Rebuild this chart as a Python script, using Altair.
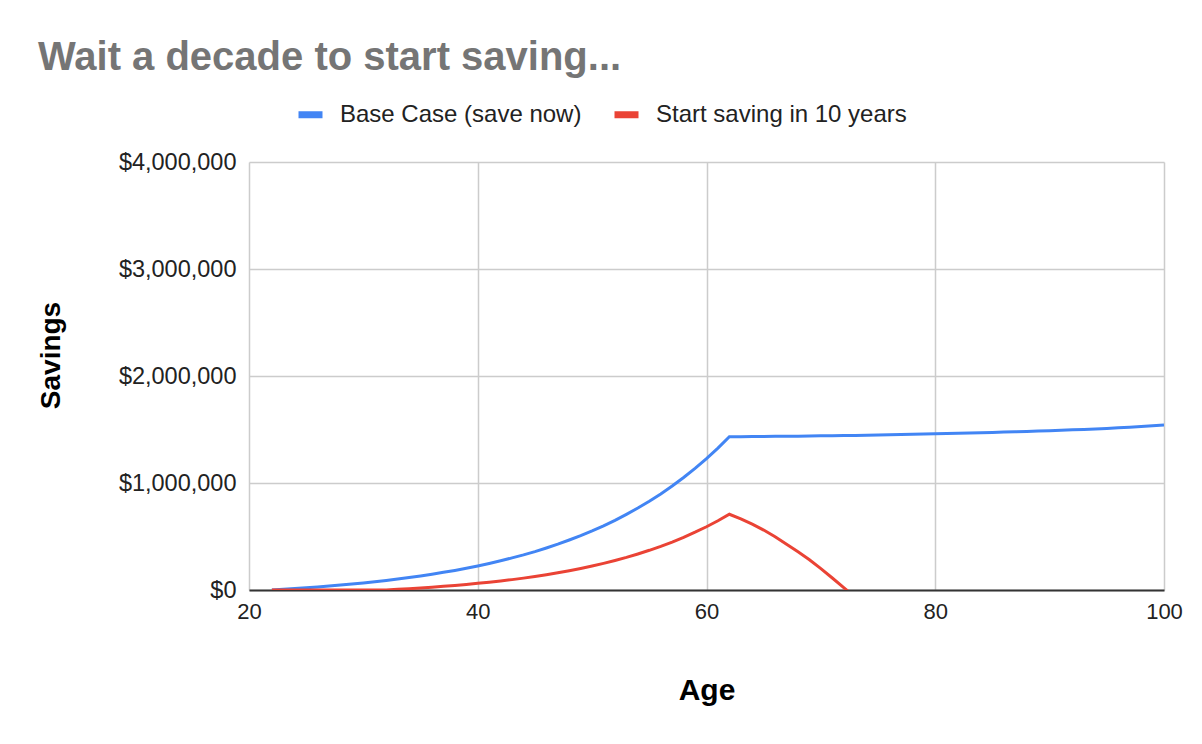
import altair as alt
import pandas as pd


# savings in thousands of dollars
ages = list(range(22, 101))
base_case = [
    0, 6, 13, 20, 28, 37, 46, 55, 66, 77,
    89, 102, 116, 131, 147, 165, 183, 203, 225, 248,
    273, 300, 328, 359, 393, 428, 467, 508, 552, 600,
    651, 707, 766, 830, 898, 972, 1051, 1136, 1228, 1326,
    1432, 1433, 1434, 1435, 1436, 1437, 1438, 1439, 1441, 1442,
    1444, 1445, 1447, 1449, 1451, 1453, 1455, 1457, 1460, 1462,
    1465, 1467, 1470, 1473, 1476, 1479, 1482, 1486, 1489, 1493,
    1497, 1501, 1505, 1510, 1516, 1522, 1528, 1535, 1542,
]

late_ages = list(range(22, 74))
late_start = [
    0, 0, 0, 0, 0, 0, 0, 0, 0, 0,
    0, 6, 12, 19, 26, 34, 42, 52, 62, 73,
    85, 97, 111, 127, 143, 161, 180, 201, 224, 249,
    276, 305, 337, 371, 408, 448, 492, 540, 591, 647,
    708, 665, 615, 560, 497, 428, 357, 283, 200, 112,
    22, -68,
]

series = ['Base Case (save now)', 'Start saving in 10 years']
colors = ['#4285f4', '#ea4335']

df = pd.concat([
    pd.DataFrame({'age': ages, 'savings': [v * 1000 for v in base_case], 'series': series[0]}),
    pd.DataFrame({'age': late_ages, 'savings': [v * 1000 for v in late_start], 'series': series[1]}),
])

font = 'Liberation Sans'

chart = alt.Chart(df).mark_line(strokeWidth=3, clip=True).encode(
    x=alt.X('age:Q', title='Age',
            scale=alt.Scale(domain=[20, 100], nice=False),
            axis=alt.Axis(values=[20, 40, 60, 80, 100], ticks=False,
                          gridColor='#cccccc', gridWidth=1.5,
                          domainColor='#333333', domainWidth=2,
                          labelFont=font, labelFontSize=22, labelColor='#222222',
                          labelPadding=11, labelFlush=False, labelOverlap=False,
                          titleFont=font, titleFontSize=30, titleFontWeight='bold',
                          titleColor='#000000', titleY=109, titleBaseline='alphabetic')),
    y=alt.Y('savings:Q', title='Savings',
            scale=alt.Scale(domain=[0, 4000000], nice=False),
            axis=alt.Axis(values=[0, 1000000, 2000000, 3000000, 4000000], format='$,.0f',
                          ticks=False, domain=False,
                          gridColor='#cccccc', gridWidth=1.5,
                          labelFont=font, labelFontSize=23.5, labelColor='#222222',
                          labelPadding=13,
                          titleFont=font, titleFontSize=28, titleFontWeight='bold',
                          titleColor='#000000', titleX=-190, titleY=193,
                          titleBaseline='alphabetic')),
    color=alt.Color('series:N',
                    scale=alt.Scale(domain=series, range=colors),
                    legend=alt.Legend(title=None, orient='none', legendX=46, legendY=-63,
                                      direction='horizontal', symbolType='stroke',
                                      symbolSize=576, symbolStrokeWidth=7,
                                      labelFont=font, labelFontSize=24, labelColor='#222222',
                                      labelOffset=14, columnPadding=18, labelLimit=400)),
).properties(
    title=alt.TitleParams('Wait a decade to start saving...', anchor='start', frame='group',
                          dx=-211, dy=45, font=font, fontSize=40, fontWeight='bold',
                          color='#757575', baseline='alphabetic', offset=34),
    width=915,
    height=428,
    autosize=alt.AutoSizeParams(type='none'),
    padding={'left': 241, 'top': 154, 'right': 30, 'bottom': 140},
).configure_view(stroke=None)

chart.save('out.html', embed_options={'renderer': 'svg', 'actions': False})
